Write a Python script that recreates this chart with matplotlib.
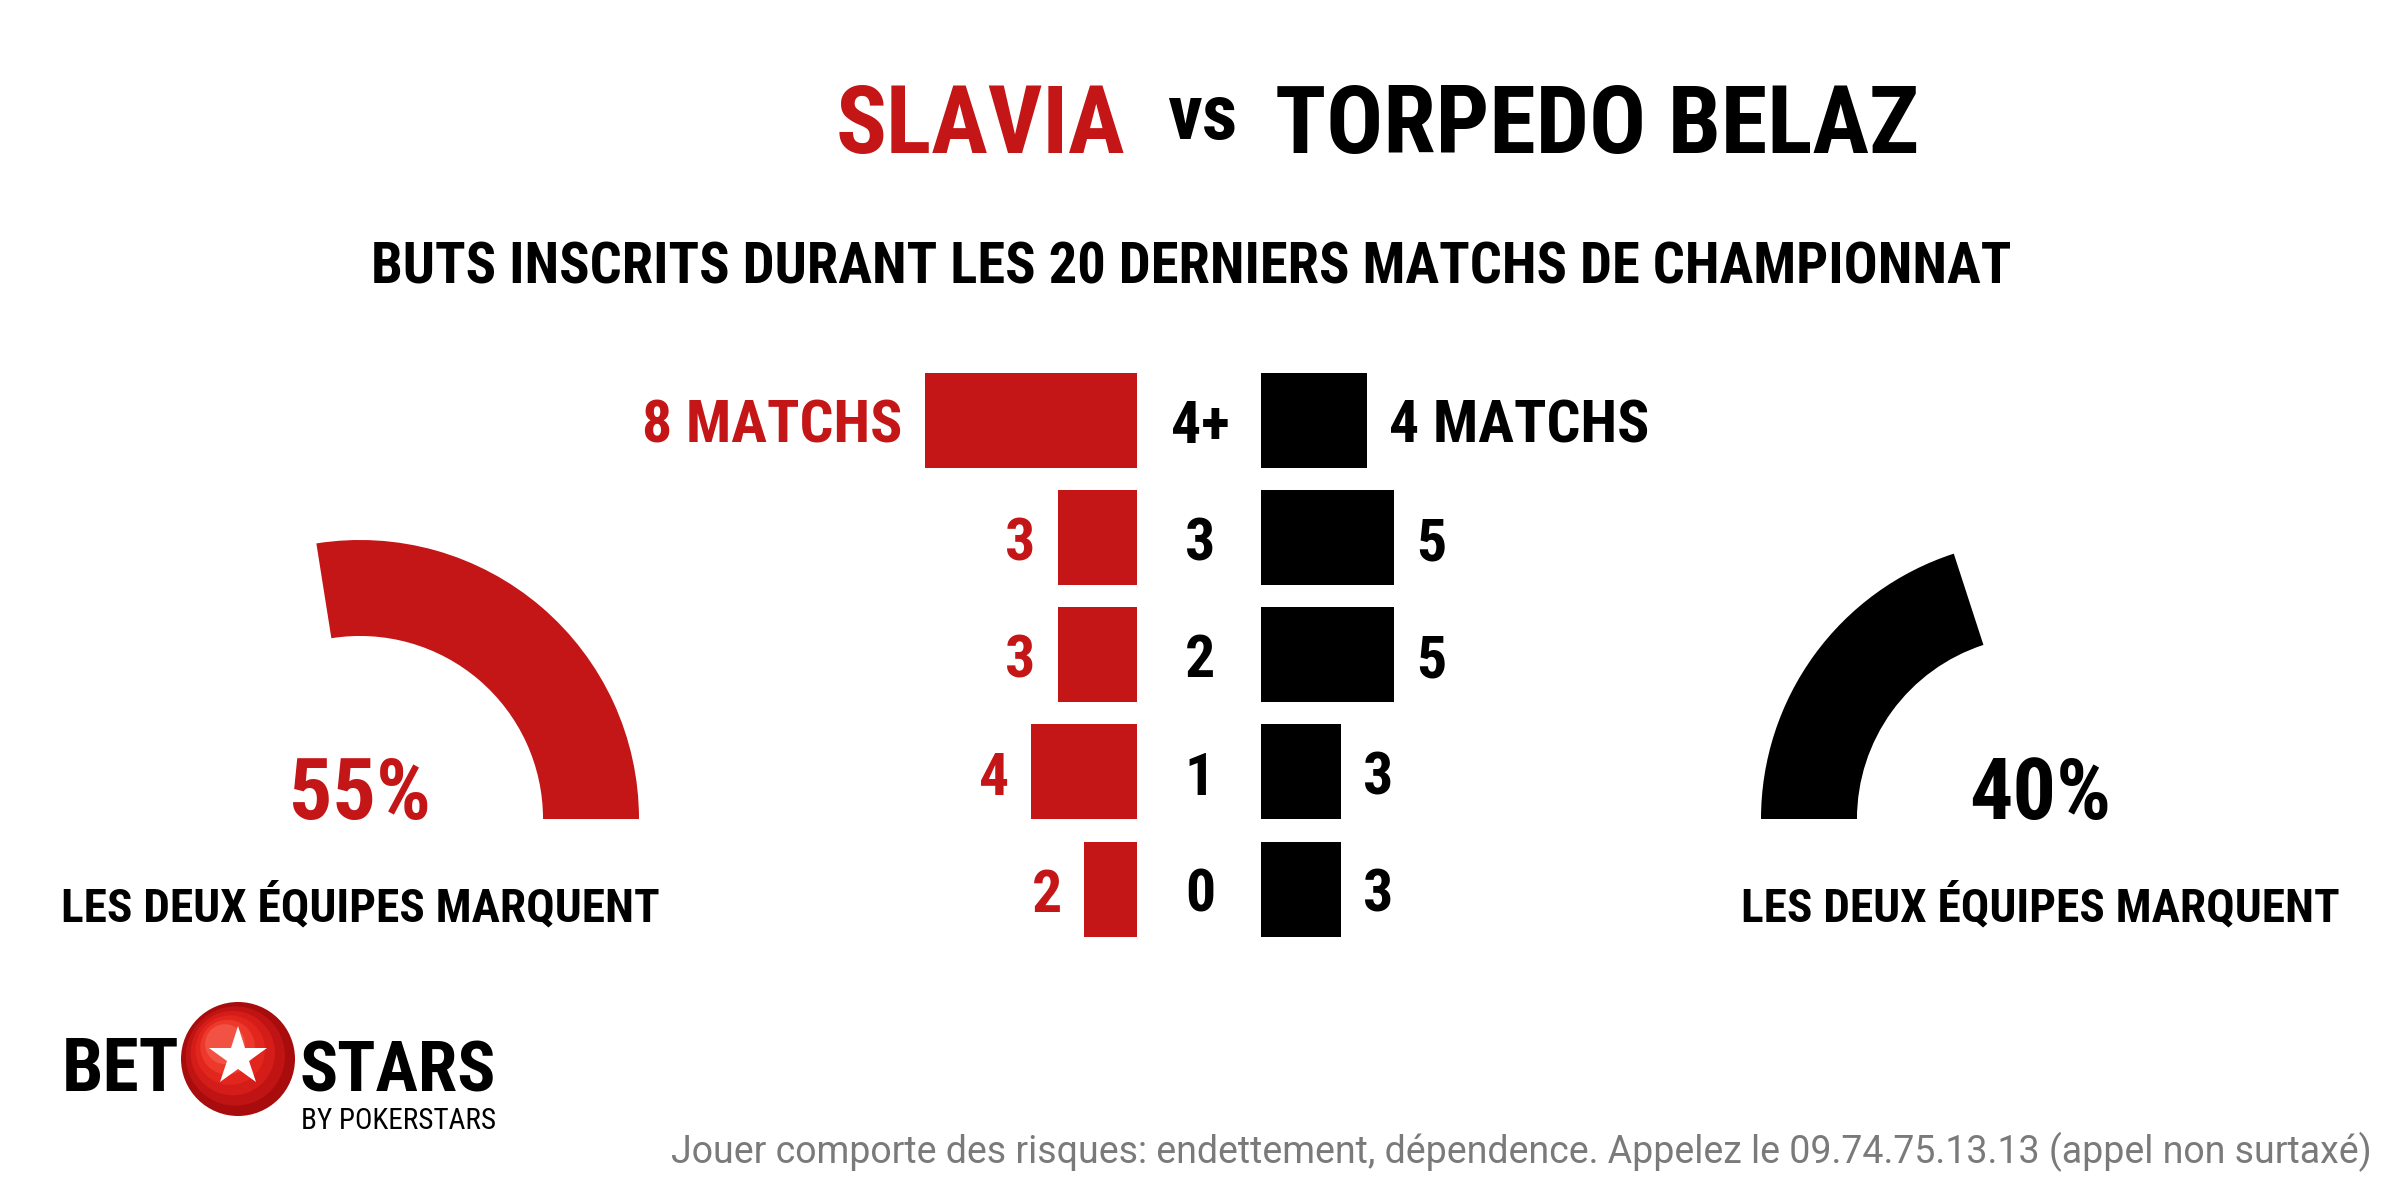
import numpy as np
import matplotlib
matplotlib.use('Agg')
import matplotlib.pyplot as plt
from matplotlib.patches import Circle
from matplotlib.transforms import blended_transform_factory

# data
home = "SLAVIA"
away = "TORPEDO BELAZ"
subtitle = "BUTS INSCRITS DURANT LES 20 DERNIERS MATCHS DE CHAMPIONNAT"
goal_labels = ["4+", "3", "2", "1", "0"]
home_matches = [8, 3, 3, 4, 2]
away_matches = [4, 5, 5, 3, 3]
home_btts = 55
away_btts = 40
btts_label = "LES DEUX ÉQUIPES MARQUENT"
footer = "Jouer comporte des risques: endettement, dépendence. Appelez le 09.74.75.13.13 (appel non surtaxé)"

RED = '#C41517'
BLACK = '#000000'
NARROW = ['Roboto Condensed', 'Liberation Sans Narrow', 'DejaVu Sans']

plt.rcParams['font.family'] = NARROW

fig = plt.figure(figsize=(24, 12), dpi=100)
fig.patch.set_facecolor('white')

# background axes in pixel coords for text + logo
ax = fig.add_axes([0, 0, 1, 1])
ax.set_xlim(0, 2400)
ax.set_ylim(1200, 0)
ax.axis('off')

# title
ax.text(1125, 153, home, ha='right', va='baseline', fontsize=68, weight='bold', color=RED)
ax.text(1202, 139, "vs", ha='center', va='baseline', fontsize=56, weight='bold', color=BLACK)
ax.text(1275, 153, away, ha='left', va='baseline', fontsize=68, weight='bold', color=BLACK)
ax.text(1191, 283, subtitle, ha='center', va='baseline', fontsize=40.7, weight='bold', color=BLACK)

# bars
pos = np.arange(len(goal_labels))
axw = 265 / 2400
ax_l = fig.add_axes([(1137 - 265) / 2400, 0.21008, axw, 0.48875])
ax_r = fig.add_axes([1261 / 2400, 0.21008, axw, 0.48875])
ax_l.barh(pos, home_matches, height=0.81, color=RED)
ax_r.barh(pos, away_matches, height=0.81, color=BLACK)
ax_l.set_xlim(10, 0)
ax_r.set_xlim(0, 10)
for a in (ax_l, ax_r):
    a.set_ylim(4.5, -0.5)
    a.axis('off')

fs = 43
dy = -0.38 * fs
for i, (h, w) in enumerate(zip(home_matches, away_matches)):
    ht = f"{h} MATCHS" if i == 0 else str(h)
    wt = f"{w} MATCHS" if i == 0 else str(w)
    ax_l.annotate(ht, xy=(h, i), xytext=(-16, dy), textcoords='offset points',
                  ha='right', va='baseline', fontsize=fs, weight='bold', color=RED)
    ax_r.annotate(wt, xy=(w, i), xytext=(16, dy), textcoords='offset points',
                  ha='left', va='baseline', fontsize=fs, weight='bold', color=BLACK)

tr = blended_transform_factory(fig.transFigure, ax_l.transData)
for i, lbl in enumerate(goal_labels):
    ax_l.annotate(lbl, xy=(0.5, i), xycoords=tr, xytext=(0, dy), textcoords='offset points',
                  ha='center', va='baseline', fontsize=fs, weight='bold', color=BLACK,
                  annotation_clip=False)

# gauges
g1 = fig.add_axes([(360 - 279) / 2400, 1 - (819 + 279) / 1200, 558 / 2400, 558 / 1200])
g1.pie([home_btts, 100 - home_btts, 100], startangle=0, counterclock=True,
       colors=[RED, 'none', 'none'], radius=1, wedgeprops=dict(width=0.344, linewidth=0))
g2 = fig.add_axes([(2040 - 279) / 2400, 1 - (819 + 279) / 1200, 558 / 2400, 558 / 1200])
g2.pie([away_btts, 100 - away_btts, 100], startangle=180, counterclock=False,
       colors=[BLACK, 'none', 'none'], radius=1, wedgeprops=dict(width=0.344, linewidth=0))
for g in (g1, g2):
    g.set_xlim(-1, 1)
    g.set_ylim(-1, 1)

ax.text(360, 819, f"{home_btts}%", ha='center', va='baseline', fontsize=62, weight='bold', color=RED)
ax.text(360, 921, btts_label, ha='center', va='baseline', fontsize=34, weight='bold', color=BLACK)
ax.text(2040, 819, f"{away_btts}%", ha='center', va='baseline', fontsize=62, weight='bold', color=BLACK)
ax.text(2040, 921, btts_label, ha='center', va='baseline', fontsize=34, weight='bold', color=BLACK)

# logo
ax.text(62, 1091, "BET", ha='left', va='baseline', fontsize=53, weight='bold', color=BLACK)
ax.text(300, 1091, "STARS", ha='left', va='baseline', fontsize=51, weight='bold', color=BLACK)
ax.text(301, 1129, "BY POKERSTARS", ha='left', va='baseline', fontsize=21, color=BLACK)
cx, cy, r = 238, 1059, 57
shades = ['#a80c0c', '#c01414', '#d41c18', '#e2261e', '#ec392c', '#f25244']
for k, c in enumerate(shades):
    rr = r * (1 - k * 0.13)
    ax.add_patch(Circle((cx - (r - rr) * 0.35, cy - (r - rr) * 0.4), rr, color=c, lw=0))
ax.plot(cx, cy - 2, marker='*', markersize=44, color='white', markeredgewidth=0)

# footer
ax.text(2372, 1163, footer, ha='right', va='baseline', fontsize=27, color='#7a7a7a',
        family=['Roboto', 'DejaVu Sans'])

fig.savefig('out.png', dpi=100, facecolor='white')
